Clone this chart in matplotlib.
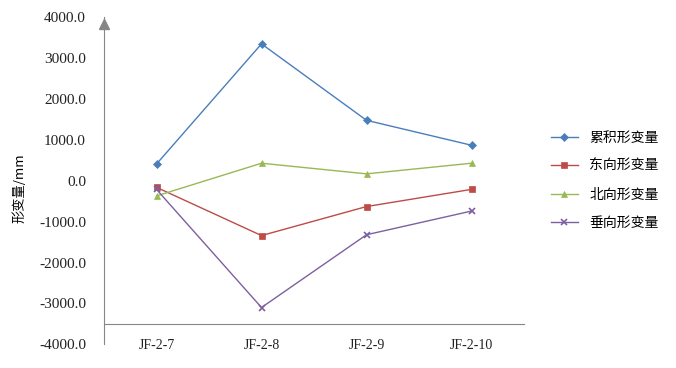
import numpy as np
import matplotlib.pyplot as plt

plt.rcParams['font.family'] = ['Liberation Serif', 'Noto Sans CJK SC', 'DejaVu Sans']

cats = ['JF-2-7', 'JF-2-8', 'JF-2-9', 'JF-2-10']
leiji = [410, 3350, 1480, 870]
dong = [-160, -1340, -630, -210]
bei = [-370, 430, 170, 430]
chui = [-210, -3100, -1320, -740]
names = ['累积形变量', '东向形变量', '北向形变量', '垂向形变量']

gray = '#868686'
fig = plt.figure(figsize=(6.76, 3.68), dpi=100)
ax = fig.add_axes([104 / 676, (368 - 344.3) / 368, 420 / 676, 327 / 368])

x = np.arange(len(cats)) + 0.5
styles = [('#4A7EBB', 'D', 3.8), ('#BE4B48', 's', 5), ('#98B954', '^', 5), ('#7D60A0', 'x', 4.2)]
for vals, name, (c, m, ms) in zip([leiji, dong, bei, chui], names, styles):
    ax.plot(x, vals, color=c, lw=1, marker=m, ms=ms, mew=1.2 if m == 'x' else 0.5,
            mec=c, mfc=c, label=name)

ax.set_xlim(0, 4)
ax.set_ylim(-4000, 4000)
ax.set_yticks(np.arange(-4000, 4001, 1000))
ax.set_yticklabels(['%.1f' % v for v in np.arange(-4000, 4001, 1000)], fontsize=11)
ax.set_xticks(x)
ax.set_xticklabels(cats, fontsize=11)
ax.tick_params(axis='both', length=0, colors='#222222')
ax.tick_params(axis='y', pad=13)
ax.tick_params(axis='x', pad=11)

for s in ['top', 'right']:
    ax.spines[s].set_visible(False)
ax.spines['left'].set_color(gray)
ax.spines['bottom'].set_color(gray)
ax.spines['bottom'].set_position(('data', -3500))
ax.plot(0, 3840, marker='^', ms=7, color=gray, clip_on=False)

fig.text(20 / 676, 1 - 188 / 368, '形变量/mm', rotation=90, ha='center', va='center',
         fontsize=9.5, family=['Noto Sans CJK SC'])

ax.legend(loc='upper left', bbox_to_anchor=(538 / 676, 1 - 118 / 368),
          bbox_transform=fig.transFigure, frameon=False, handlelength=2.0,
          handletextpad=0.8, labelspacing=1.05,
          prop={'family': 'Noto Sans CJK SC', 'size': 10})

fig.savefig('out.png', dpi=100)
